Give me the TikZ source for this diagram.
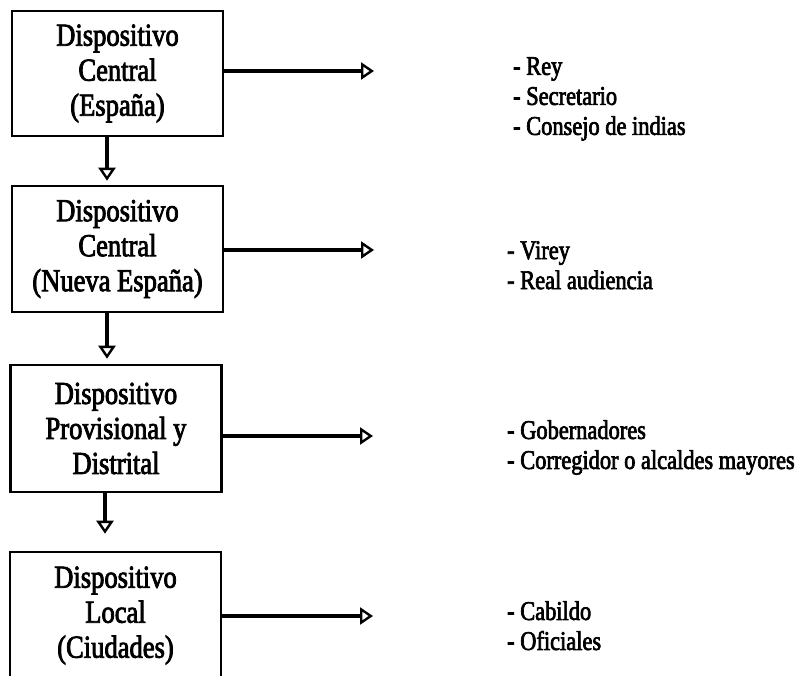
\documentclass[tikz,border=0pt]{standalone}
\usepackage{fontspec}
\setmainfont{Liberation Serif}
\newfontfamily\scanfont[FakeStretch=0.83,FakeBold=2.5]{Liberation Serif}
\usetikzlibrary{arrows.meta}
\begin{document}
\begin{tikzpicture}[x=1pt,y=-1pt,
  stagebox/.style={draw, line width=2.6pt, minimum width=211pt, align=center, inner sep=0pt,
    font=\scanfont\fontsize{32}{35}\selectfont},
  listtext/.style={align=left, anchor=north west, inner sep=0pt,
    font=\scanfont\fontsize{27}{30}\selectfont},
  conn/.style={line width=3.6pt, -{Triangle[open, length=13pt, width=17pt, line width=2.4pt]}}]
\clip (0,0) rectangle (802,676);
\fill[white] (0,0) rectangle (802,676);

% boxes
\node[stagebox, minimum height=125pt] (b1) at (117.5,73.5) {Dispositivo\\Central\\(España)};
\node[stagebox, minimum height=126pt] (b2) at (117.5,249) {Dispositivo\\Central\\(Nueva España)};
\node[stagebox, minimum height=127pt] (b3) at (116,428.5) {Dispositivo\\Provisional y\\Distrital};
\node[stagebox, minimum height=127pt] (b4) at (115.5,615.5) {Dispositivo\\Local\\(Ciudades)};

% lists
\node[listtext] (l1) at (513,57) {- Rey\\- Secretario\\- Consejo de indias};
\node[listtext] (l2) at (507,241) {- Virey\\- Real audiencia};
\node[listtext] (l3) at (507,420) {- Gobernadores\\- Corregidor o alcaldes mayores};
\node[listtext] (l4) at (507,601) {- Cabildo\\- Oficiales};

% arrow ends
\coordinate (t1) at (374,71);
\coordinate (t2) at (374,250);
\coordinate (t3) at (373,436);
\coordinate (t4) at (373,616);

% horizontal connectors
\draw[conn] (b1.east |- t1) -- (t1);
\draw[conn] (b2.east |- t2) -- (t2);
\draw[conn] (b3.east |- t3) -- (t3);
\draw[conn] (b4.east |- t4) -- (t4);

% vertical connectors
\draw[conn] ([xshift=-10.5pt]b1.south) -- ([xshift=-10.5pt,yshift=4pt]b2.north);
\draw[conn] ([xshift=-10.5pt]b2.south) -- ([xshift=-9pt,yshift=5pt]b3.north);
\draw[conn] ([xshift=-11pt]b3.south) -- ([xshift=-10.5pt,yshift=17pt]b4.north);
\end{tikzpicture}
\end{document}
